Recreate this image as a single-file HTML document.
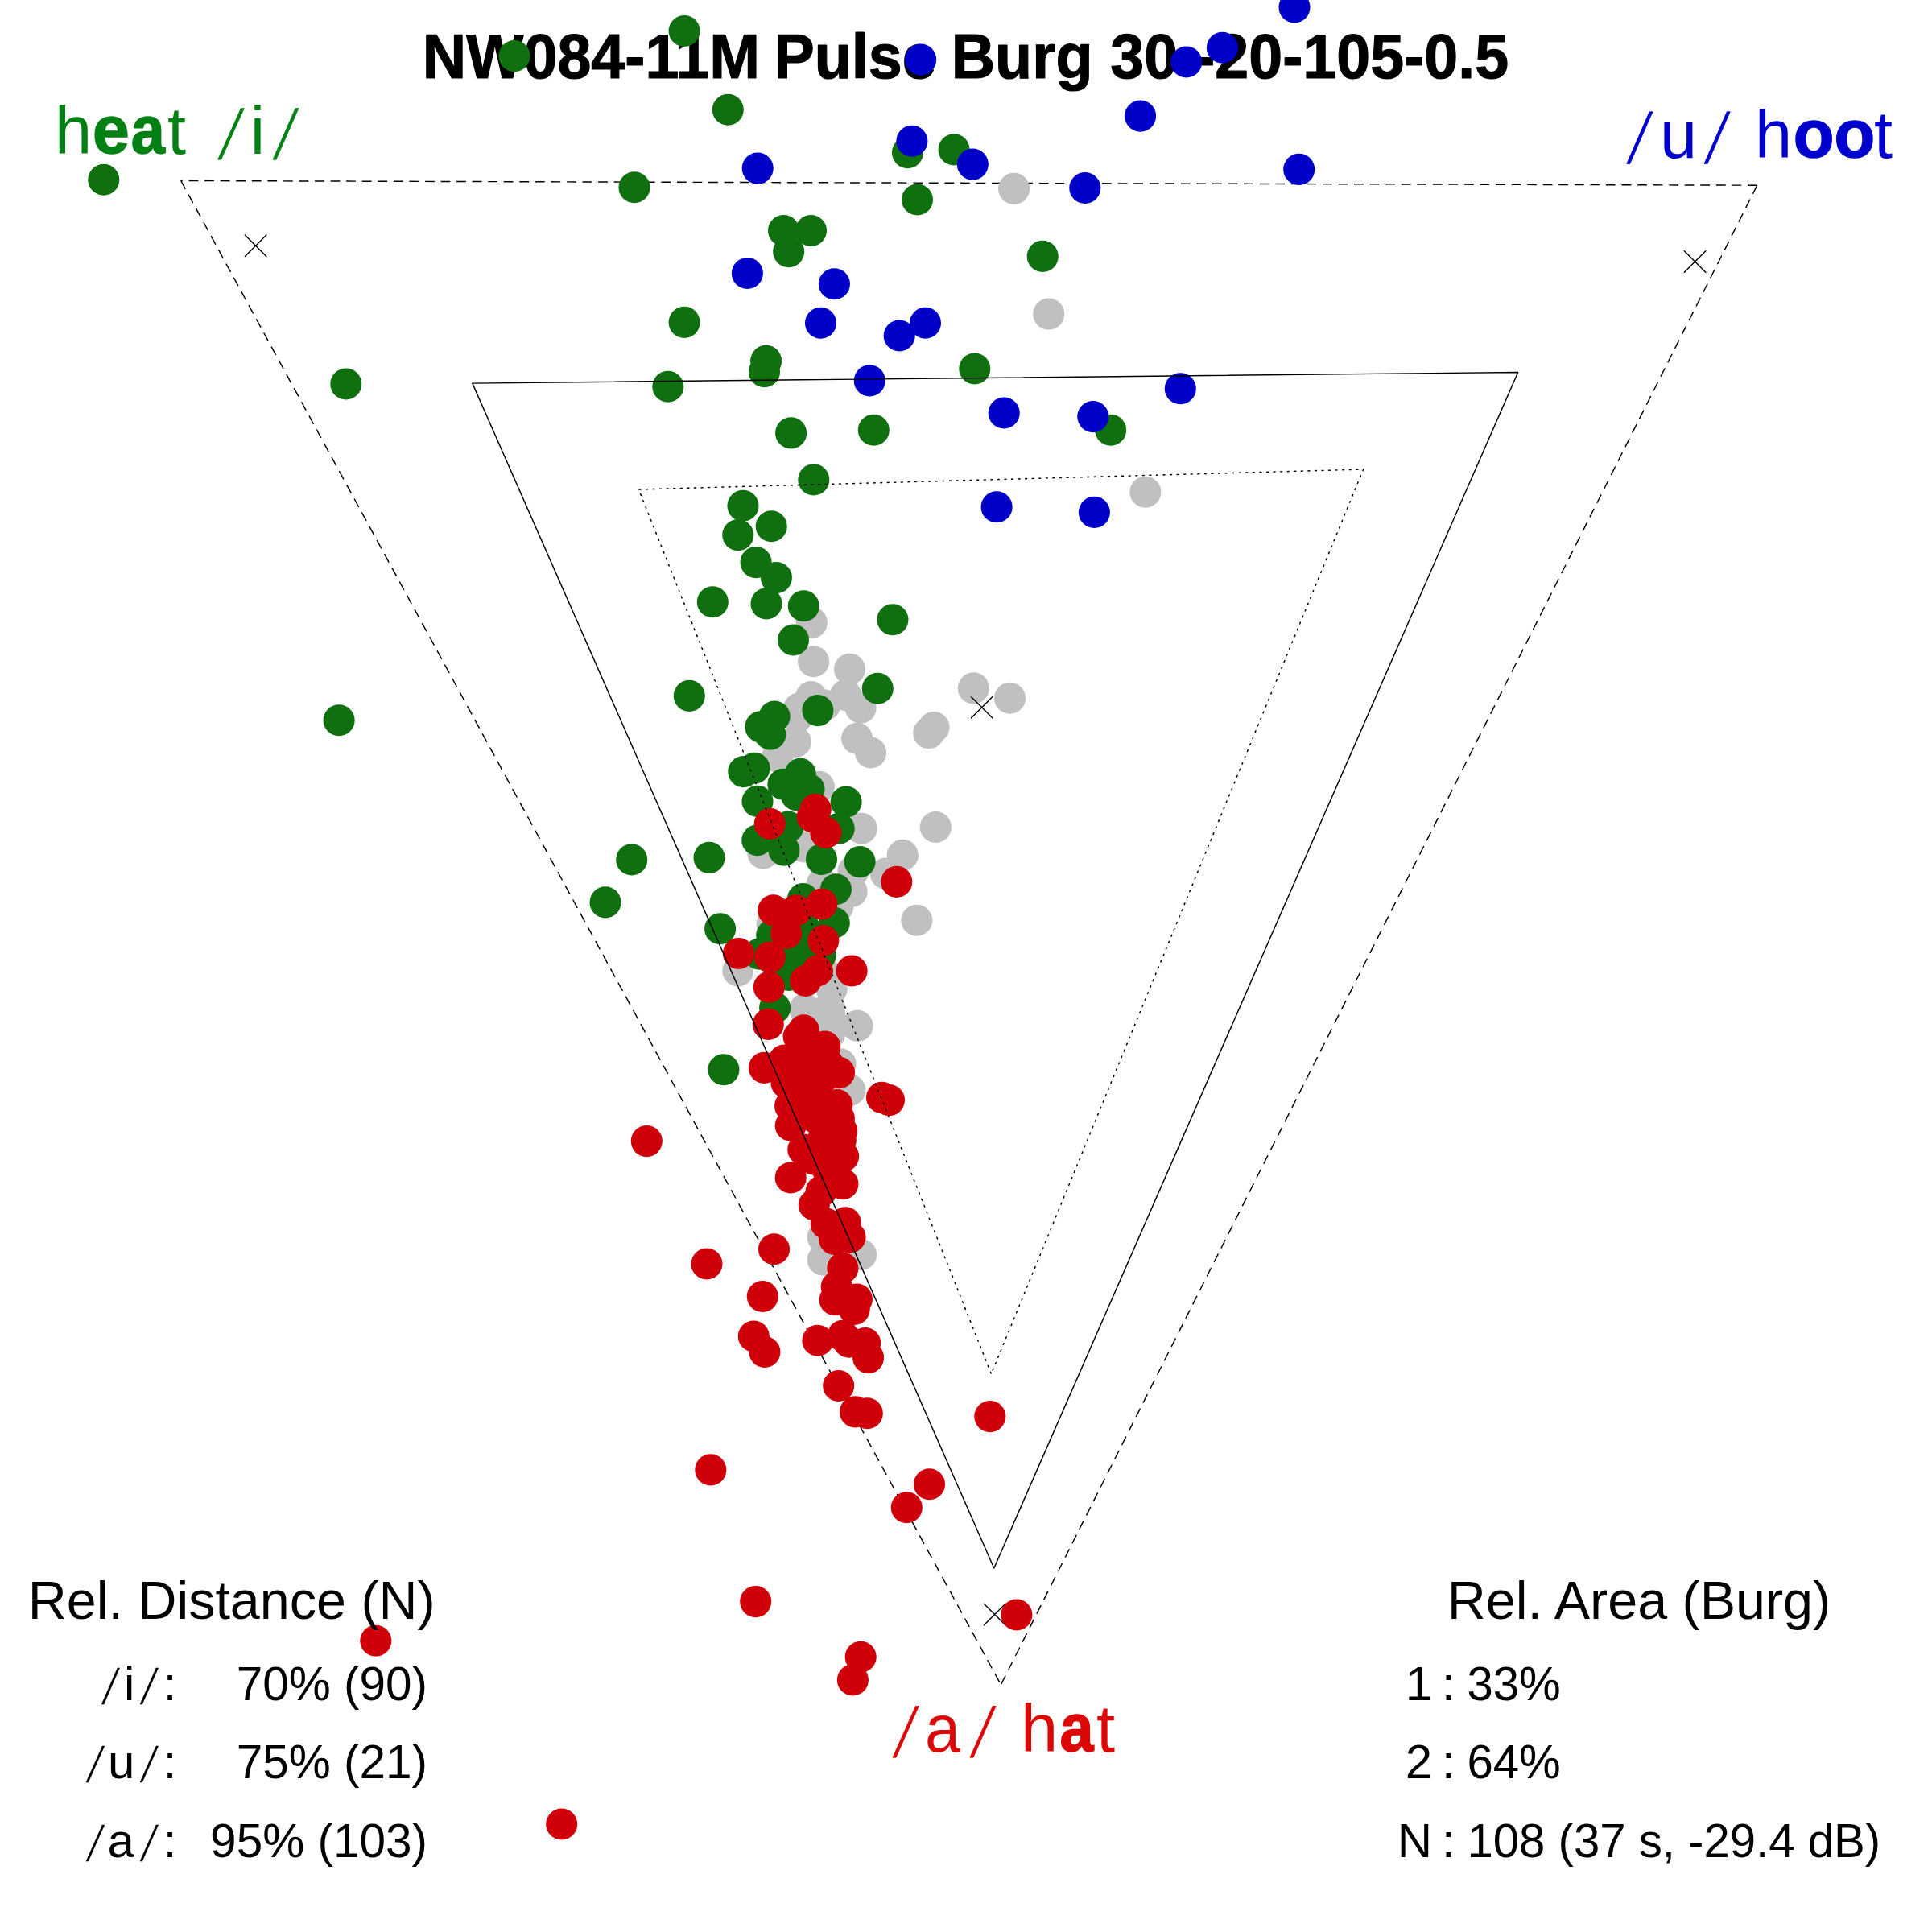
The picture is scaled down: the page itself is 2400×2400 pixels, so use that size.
<!DOCTYPE html>
<html><head><meta charset="utf-8"><title>Vowel triangle</title>
<style>html,body{margin:0;padding:0;background:#fff;}svg{display:block;}</style></head>
<body><svg width="2400" height="2400" viewBox="0 0 2400 2400">
<rect width="2400" height="2400" fill="#fff"/>
<text transform="translate(0,96.9) scale(0.961,1)" font-family="Liberation Sans, Arial, sans-serif" font-size="78.5" font-weight="bold" fill="#000" stroke="#000" stroke-width="1.2" stroke-linejoin="round"><tspan x="546.1" y="0">NW084-11M </tspan><tspan x="1000.4" y="0">Pulse </tspan><tspan x="1229.6" y="0">Burg </tspan><tspan x="1435.3" y="0">30 -20-105-0.5</tspan></text>
<path d="M224.7,224.5 L1243.4,2092.8" fill="none" stroke="#000" stroke-width="1.45" stroke-dasharray="11.8 7.76"/>
<path d="M2182.8,230.2 L1243.4,2092.8" fill="none" stroke="#000" stroke-width="1.45" stroke-dasharray="11.8 7.76"/>
<path d="M2182.8,230.2 L224.7,224.5" fill="none" stroke="#000" stroke-width="1.45" stroke-dasharray="11.8 7.76"/>
<circle cx="1259.6" cy="234.4" r="19.55" fill="#c0c0c0"/>
<circle cx="1302.7" cy="390.1" r="19.55" fill="#c0c0c0"/>
<circle cx="1422.8" cy="611.2" r="19.55" fill="#c0c0c0"/>
<circle cx="1008.3" cy="773.5" r="19.55" fill="#c0c0c0"/>
<circle cx="1010.6" cy="821.7" r="19.55" fill="#c0c0c0"/>
<circle cx="1055.5" cy="831.3" r="19.55" fill="#c0c0c0"/>
<circle cx="1209.3" cy="854.9" r="19.55" fill="#c0c0c0"/>
<circle cx="1254.5" cy="867.3" r="19.55" fill="#c0c0c0"/>
<circle cx="1007.7" cy="865.6" r="19.55" fill="#c0c0c0"/>
<circle cx="992.5" cy="880.1" r="19.55" fill="#c0c0c0"/>
<circle cx="1024.6" cy="876.0" r="19.55" fill="#c0c0c0"/>
<circle cx="1050.5" cy="863.6" r="19.55" fill="#c0c0c0"/>
<circle cx="1069.2" cy="879.1" r="19.55" fill="#c0c0c0"/>
<circle cx="947.0" cy="905.0" r="19.55" fill="#c0c0c0"/>
<circle cx="990.5" cy="890.5" r="19.55" fill="#c0c0c0"/>
<circle cx="988.4" cy="921.5" r="19.55" fill="#c0c0c0"/>
<circle cx="1064.6" cy="917.4" r="19.55" fill="#c0c0c0"/>
<circle cx="1081.6" cy="935.0" r="19.55" fill="#c0c0c0"/>
<circle cx="1160.0" cy="903.5" r="19.55" fill="#c0c0c0"/>
<circle cx="1153.8" cy="910.6" r="19.55" fill="#c0c0c0"/>
<circle cx="965.6" cy="940.2" r="19.55" fill="#c0c0c0"/>
<circle cx="1017.4" cy="977.4" r="19.55" fill="#c0c0c0"/>
<circle cx="1070.2" cy="1029.2" r="19.55" fill="#c0c0c0"/>
<circle cx="1162.3" cy="1027.5" r="19.55" fill="#c0c0c0"/>
<circle cx="948.0" cy="1060.2" r="19.55" fill="#c0c0c0"/>
<circle cx="998.8" cy="1052.0" r="19.55" fill="#c0c0c0"/>
<circle cx="1121.3" cy="1062.3" r="19.55" fill="#c0c0c0"/>
<circle cx="1100.2" cy="1085.1" r="19.55" fill="#c0c0c0"/>
<circle cx="1060.0" cy="1082.0" r="19.55" fill="#c0c0c0"/>
<circle cx="1021.5" cy="1097.5" r="19.55" fill="#c0c0c0"/>
<circle cx="1138.8" cy="1143.2" r="19.55" fill="#c0c0c0"/>
<circle cx="1058.1" cy="1107.5" r="19.55" fill="#c0c0c0"/>
<circle cx="1041.0" cy="1126.0" r="19.55" fill="#c0c0c0"/>
<circle cx="959.1" cy="1148.0" r="19.55" fill="#c0c0c0"/>
<circle cx="916.8" cy="1206.0" r="19.55" fill="#c0c0c0"/>
<circle cx="1033.2" cy="1214.6" r="19.55" fill="#c0c0c0"/>
<circle cx="999.8" cy="1253.4" r="19.55" fill="#c0c0c0"/>
<circle cx="1030.1" cy="1251.9" r="19.55" fill="#c0c0c0"/>
<circle cx="1065.1" cy="1274.4" r="19.55" fill="#c0c0c0"/>
<circle cx="1044.1" cy="1321.7" r="19.55" fill="#c0c0c0"/>
<circle cx="1031.5" cy="1263.5" r="19.55" fill="#c0c0c0"/>
<circle cx="1030.4" cy="1284.2" r="19.55" fill="#c0c0c0"/>
<circle cx="1056.0" cy="1354.3" r="19.55" fill="#c0c0c0"/>
<circle cx="1022.3" cy="1536.8" r="19.55" fill="#c0c0c0"/>
<circle cx="1022.3" cy="1565.0" r="19.55" fill="#c0c0c0"/>
<circle cx="1069.6" cy="1558.5" r="19.55" fill="#c0c0c0"/>
<circle cx="1031.7" cy="1278.3" r="19.55" fill="#c0c0c0"/>
<circle cx="1033.2" cy="1228.6" r="19.55" fill="#c0c0c0"/>
<path d="M304.3,291.9 L330.9,318.5 M304.3,318.5 L330.9,291.9" stroke="#000" stroke-width="1.4" stroke-linecap="round" fill="none"/>
<path d="M2092.3,311.7 L2118.9,338.3 M2092.3,338.3 L2118.9,311.7" stroke="#000" stroke-width="1.4" stroke-linecap="round" fill="none"/>
<path d="M1206.4,865.4 L1233.0,892.0 M1206.4,892.0 L1233.0,865.4" stroke="#000" stroke-width="1.4" stroke-linecap="round" fill="none"/>
<path d="M1222.3,1992.2 L1248.9,2018.8 M1222.3,2018.8 L1248.9,1992.2" stroke="#000" stroke-width="1.4" stroke-linecap="round" fill="none"/>
<circle cx="128.8" cy="223.2" r="19.55" fill="#107010"/>
<circle cx="429.8" cy="477.0" r="19.55" fill="#107010"/>
<circle cx="639.0" cy="69.6" r="19.55" fill="#107010"/>
<circle cx="850.1" cy="38.5" r="19.55" fill="#107010"/>
<circle cx="904.3" cy="136.2" r="19.55" fill="#107010"/>
<circle cx="788.0" cy="232.7" r="19.55" fill="#107010"/>
<circle cx="1127.5" cy="189.6" r="19.55" fill="#107010"/>
<circle cx="1185.1" cy="185.9" r="19.55" fill="#107010"/>
<circle cx="1139.5" cy="248.0" r="19.55" fill="#107010"/>
<circle cx="973.5" cy="286.5" r="19.55" fill="#107010"/>
<circle cx="1007.5" cy="286.5" r="19.55" fill="#107010"/>
<circle cx="979.7" cy="312.6" r="19.55" fill="#107010"/>
<circle cx="1295.2" cy="318.4" r="19.55" fill="#107010"/>
<circle cx="850.1" cy="400.4" r="19.55" fill="#107010"/>
<circle cx="951.6" cy="448.4" r="19.55" fill="#107010"/>
<circle cx="949.5" cy="461.7" r="19.55" fill="#107010"/>
<circle cx="829.8" cy="480.3" r="19.55" fill="#107010"/>
<circle cx="1210.8" cy="458.0" r="19.55" fill="#107010"/>
<circle cx="1379.7" cy="534.2" r="19.55" fill="#107010"/>
<circle cx="982.6" cy="537.9" r="19.55" fill="#107010"/>
<circle cx="1085.3" cy="534.2" r="19.55" fill="#107010"/>
<circle cx="1010.8" cy="595.9" r="19.55" fill="#107010"/>
<circle cx="923.0" cy="628.2" r="19.55" fill="#107010"/>
<circle cx="958.2" cy="653.8" r="19.55" fill="#107010"/>
<circle cx="916.8" cy="664.6" r="19.55" fill="#107010"/>
<circle cx="939.1" cy="698.6" r="19.55" fill="#107010"/>
<circle cx="964.4" cy="717.6" r="19.55" fill="#107010"/>
<circle cx="885.3" cy="747.8" r="19.55" fill="#107010"/>
<circle cx="952.0" cy="749.9" r="19.55" fill="#107010"/>
<circle cx="998.3" cy="752.8" r="19.55" fill="#107010"/>
<circle cx="1108.9" cy="769.8" r="19.55" fill="#107010"/>
<circle cx="985.5" cy="795.0" r="19.55" fill="#107010"/>
<circle cx="421.1" cy="894.8" r="19.55" fill="#107010"/>
<circle cx="784.7" cy="1067.9" r="19.55" fill="#107010"/>
<circle cx="752.0" cy="1120.9" r="19.55" fill="#107010"/>
<circle cx="1090.3" cy="855.3" r="19.55" fill="#107010"/>
<circle cx="856.3" cy="864.4" r="19.55" fill="#107010"/>
<circle cx="1015.9" cy="882.6" r="19.55" fill="#107010"/>
<circle cx="962.1" cy="890.0" r="19.55" fill="#107010"/>
<circle cx="944.9" cy="902.9" r="19.55" fill="#107010"/>
<circle cx="956.9" cy="912.2" r="19.55" fill="#107010"/>
<circle cx="937.1" cy="954.2" r="19.55" fill="#107010"/>
<circle cx="923.8" cy="958.6" r="19.55" fill="#107010"/>
<circle cx="994.2" cy="961.3" r="19.55" fill="#107010"/>
<circle cx="972.9" cy="974.3" r="19.55" fill="#107010"/>
<circle cx="1005.0" cy="980.5" r="19.55" fill="#107010"/>
<circle cx="989.4" cy="987.8" r="19.55" fill="#107010"/>
<circle cx="941.0" cy="995.4" r="19.55" fill="#107010"/>
<circle cx="1051.1" cy="996.1" r="19.55" fill="#107010"/>
<circle cx="979.1" cy="1027.1" r="19.55" fill="#107010"/>
<circle cx="1042.2" cy="1029.2" r="19.55" fill="#107010"/>
<circle cx="940.8" cy="1043.7" r="19.55" fill="#107010"/>
<circle cx="973.9" cy="1056.1" r="19.55" fill="#107010"/>
<circle cx="1020.5" cy="1067.5" r="19.55" fill="#107010"/>
<circle cx="1068.1" cy="1070.6" r="19.55" fill="#107010"/>
<circle cx="881.0" cy="1065.4" r="19.55" fill="#107010"/>
<circle cx="1038.4" cy="1104.7" r="19.55" fill="#107010"/>
<circle cx="997.5" cy="1116.5" r="19.55" fill="#107010"/>
<circle cx="1036.3" cy="1146.3" r="19.55" fill="#107010"/>
<circle cx="958.7" cy="1161.8" r="19.55" fill="#107010"/>
<circle cx="894.6" cy="1153.7" r="19.55" fill="#107010"/>
<circle cx="943.2" cy="1185.1" r="19.55" fill="#107010"/>
<circle cx="989.8" cy="1185.1" r="19.55" fill="#107010"/>
<circle cx="1019.3" cy="1186.6" r="19.55" fill="#107010"/>
<circle cx="979.7" cy="1211.5" r="19.55" fill="#107010"/>
<circle cx="962.6" cy="1251.9" r="19.55" fill="#107010"/>
<circle cx="898.9" cy="1328.7" r="19.55" fill="#107010"/>
<circle cx="999.0" cy="1152.5" r="19.55" fill="#107010"/>
<circle cx="1143.7" cy="74.1" r="19.55" fill="#0000c8"/>
<circle cx="941.2" cy="209.1" r="19.55" fill="#0000c8"/>
<circle cx="1132.9" cy="175.2" r="19.55" fill="#0000c8"/>
<circle cx="1208.3" cy="204.1" r="19.55" fill="#0000c8"/>
<circle cx="1347.8" cy="233.5" r="19.55" fill="#0000c8"/>
<circle cx="1416.6" cy="144.1" r="19.55" fill="#0000c8"/>
<circle cx="1473.7" cy="77.0" r="19.55" fill="#0000c8"/>
<circle cx="1518.4" cy="59.2" r="19.55" fill="#0000c8"/>
<circle cx="1608.0" cy="9.0" r="19.55" fill="#0000c8"/>
<circle cx="1613.7" cy="210.4" r="19.55" fill="#0000c8"/>
<circle cx="928.4" cy="339.5" r="19.55" fill="#0000c8"/>
<circle cx="1036.4" cy="352.8" r="19.55" fill="#0000c8"/>
<circle cx="1019.5" cy="401.2" r="19.55" fill="#0000c8"/>
<circle cx="1149.5" cy="401.2" r="19.55" fill="#0000c8"/>
<circle cx="1117.2" cy="417.0" r="19.55" fill="#0000c8"/>
<circle cx="1080.3" cy="472.9" r="19.55" fill="#0000c8"/>
<circle cx="1466.3" cy="482.8" r="19.55" fill="#0000c8"/>
<circle cx="1247.2" cy="513.0" r="19.55" fill="#0000c8"/>
<circle cx="1357.8" cy="517.6" r="19.55" fill="#0000c8"/>
<circle cx="1238.1" cy="629.8" r="19.55" fill="#0000c8"/>
<circle cx="1359.4" cy="636.4" r="19.55" fill="#0000c8"/>
<circle cx="803.3" cy="1417.6" r="19.55" fill="#d0000a"/>
<circle cx="1013.3" cy="1005.4" r="19.55" fill="#d0000a"/>
<circle cx="1009.1" cy="1014.7" r="19.55" fill="#d0000a"/>
<circle cx="956.3" cy="1023.4" r="19.55" fill="#d0000a"/>
<circle cx="1025.9" cy="1034.4" r="19.55" fill="#d0000a"/>
<circle cx="1113.8" cy="1095.4" r="19.55" fill="#d0000a"/>
<circle cx="960.7" cy="1130.7" r="19.55" fill="#d0000a"/>
<circle cx="989.0" cy="1130.7" r="19.55" fill="#d0000a"/>
<circle cx="1020.8" cy="1123.0" r="19.55" fill="#d0000a"/>
<circle cx="976.6" cy="1159.5" r="19.55" fill="#d0000a"/>
<circle cx="1022.8" cy="1168.5" r="19.55" fill="#d0000a"/>
<circle cx="917.4" cy="1184.5" r="19.55" fill="#d0000a"/>
<circle cx="956.4" cy="1189.0" r="19.55" fill="#d0000a"/>
<circle cx="1015.4" cy="1206.0" r="19.55" fill="#d0000a"/>
<circle cx="1000.6" cy="1218.5" r="19.55" fill="#d0000a"/>
<circle cx="1058.1" cy="1206.0" r="19.55" fill="#d0000a"/>
<circle cx="955.3" cy="1226.2" r="19.55" fill="#d0000a"/>
<circle cx="954.3" cy="1272.4" r="19.55" fill="#d0000a"/>
<circle cx="998.3" cy="1279.8" r="19.55" fill="#d0000a"/>
<circle cx="992.1" cy="1287.6" r="19.55" fill="#d0000a"/>
<circle cx="1024.7" cy="1300.0" r="19.55" fill="#d0000a"/>
<circle cx="949.4" cy="1326.4" r="19.55" fill="#d0000a"/>
<circle cx="974.2" cy="1317.1" r="19.55" fill="#d0000a"/>
<circle cx="1042.5" cy="1332.6" r="19.55" fill="#d0000a"/>
<circle cx="977.0" cy="1345.3" r="19.55" fill="#d0000a"/>
<circle cx="981.6" cy="1373.8" r="19.55" fill="#d0000a"/>
<circle cx="982.2" cy="1398.3" r="19.55" fill="#d0000a"/>
<circle cx="997.8" cy="1428.1" r="19.55" fill="#d0000a"/>
<circle cx="982.2" cy="1463.0" r="19.55" fill="#d0000a"/>
<circle cx="1011.3" cy="1496.7" r="19.55" fill="#d0000a"/>
<circle cx="1027.5" cy="1451.4" r="19.55" fill="#d0000a"/>
<circle cx="1030.1" cy="1466.9" r="19.55" fill="#d0000a"/>
<circle cx="1046.9" cy="1470.8" r="19.55" fill="#d0000a"/>
<circle cx="1047.6" cy="1436.5" r="19.55" fill="#d0000a"/>
<circle cx="1044.3" cy="1416.5" r="19.55" fill="#d0000a"/>
<circle cx="1045.6" cy="1404.8" r="19.55" fill="#d0000a"/>
<circle cx="1042.4" cy="1389.3" r="19.55" fill="#d0000a"/>
<circle cx="1039.8" cy="1372.5" r="19.55" fill="#d0000a"/>
<circle cx="1041.8" cy="1332.3" r="19.55" fill="#d0000a"/>
<circle cx="1022.0" cy="1306.0" r="19.55" fill="#d0000a"/>
<circle cx="1095.5" cy="1363.4" r="19.55" fill="#d0000a"/>
<circle cx="1104.5" cy="1366.6" r="19.55" fill="#d0000a"/>
<circle cx="1050.2" cy="1518.7" r="19.55" fill="#d0000a"/>
<circle cx="1056.0" cy="1536.8" r="19.55" fill="#d0000a"/>
<circle cx="1026.2" cy="1520.0" r="19.55" fill="#d0000a"/>
<circle cx="1036.6" cy="1539.4" r="19.55" fill="#d0000a"/>
<circle cx="961.5" cy="1551.7" r="19.55" fill="#d0000a"/>
<circle cx="878.0" cy="1570.0" r="19.55" fill="#d0000a"/>
<circle cx="947.3" cy="1610.5" r="19.55" fill="#d0000a"/>
<circle cx="936.3" cy="1660.0" r="19.55" fill="#d0000a"/>
<circle cx="949.9" cy="1679.5" r="19.55" fill="#d0000a"/>
<circle cx="1015.9" cy="1665.2" r="19.55" fill="#d0000a"/>
<circle cx="1046.9" cy="1659.4" r="19.55" fill="#d0000a"/>
<circle cx="1054.7" cy="1667.2" r="19.55" fill="#d0000a"/>
<circle cx="1074.7" cy="1668.5" r="19.55" fill="#d0000a"/>
<circle cx="1078.6" cy="1686.6" r="19.55" fill="#d0000a"/>
<circle cx="1041.7" cy="1721.5" r="19.55" fill="#d0000a"/>
<circle cx="1062.5" cy="1753.9" r="19.55" fill="#d0000a"/>
<circle cx="1077.3" cy="1755.8" r="19.55" fill="#d0000a"/>
<circle cx="1046.9" cy="1575.3" r="19.55" fill="#d0000a"/>
<circle cx="1039.2" cy="1598.6" r="19.55" fill="#d0000a"/>
<circle cx="1037.2" cy="1614.8" r="19.55" fill="#d0000a"/>
<circle cx="1064.4" cy="1614.1" r="19.55" fill="#d0000a"/>
<circle cx="1061.2" cy="1626.4" r="19.55" fill="#d0000a"/>
<circle cx="1037.9" cy="1537.8" r="19.55" fill="#d0000a"/>
<circle cx="1055.3" cy="1537.1" r="19.55" fill="#d0000a"/>
<circle cx="1229.8" cy="1759.6" r="19.55" fill="#d0000a"/>
<circle cx="882.8" cy="1825.9" r="19.55" fill="#d0000a"/>
<circle cx="1154.5" cy="1843.7" r="19.55" fill="#d0000a"/>
<circle cx="1126.3" cy="1872.7" r="19.55" fill="#d0000a"/>
<circle cx="938.7" cy="1989.6" r="19.55" fill="#d0000a"/>
<circle cx="1262.9" cy="2006.0" r="19.55" fill="#d0000a"/>
<circle cx="1069.2" cy="2058.3" r="19.55" fill="#d0000a"/>
<circle cx="1059.4" cy="2086.9" r="19.55" fill="#d0000a"/>
<circle cx="697.7" cy="2266.0" r="19.55" fill="#d0000a"/>
<circle cx="466.8" cy="2038.2" r="19.55" fill="#d0000a"/>
<circle cx="1000.0" cy="1330.0" r="19.55" fill="#d0000a"/>
<circle cx="1010.0" cy="1360.0" r="19.55" fill="#d0000a"/>
<circle cx="1015.0" cy="1390.0" r="19.55" fill="#d0000a"/>
<circle cx="1020.0" cy="1420.0" r="19.55" fill="#d0000a"/>
<circle cx="1010.0" cy="1440.0" r="19.55" fill="#d0000a"/>
<circle cx="1020.0" cy="1480.0" r="19.55" fill="#d0000a"/>
<circle cx="1005.3" cy="1306.2" r="19.55" fill="#d0000a"/>
<circle cx="1028.6" cy="1321.7" r="19.55" fill="#d0000a"/>
<circle cx="989.8" cy="1337.3" r="19.55" fill="#d0000a"/>
<circle cx="1022.3" cy="1338.8" r="19.55" fill="#d0000a"/>
<circle cx="996.5" cy="1307.8" r="19.55" fill="#d0000a"/>
<path d="M586.8,476.1 L1885.7,462.5 L1234.8,1948.0 Z" fill="none" stroke="#000" stroke-width="1.45" stroke-linejoin="round"/>
<path d="M1231.4,1706.6 L793.4,608 L1693.6,583 Z" fill="none" stroke="#000" stroke-width="1.45" stroke-dasharray="3.1 5.47"/>
<text font-family="Liberation Sans, Arial, sans-serif" font-size="83" fill="#038013"><tspan x="68.1" y="191.0">h</tspan><tspan x="114.9" y="190.4" font-weight="bold" stroke="#038013" stroke-width="1.6" stroke-linejoin="round" textLength="45.7" lengthAdjust="spacingAndGlyphs">e</tspan><tspan x="162.7" y="190.4" font-weight="bold" stroke="#038013" stroke-width="1.6" stroke-linejoin="round" textLength="42.0" lengthAdjust="spacingAndGlyphs">a</tspan><tspan x="208.0" y="191.0">t</tspan></text>
<text transform="translate(270.52,190.54) skewX(-8.00)" x="0" y="0" font-family="DejaVu Sans, sans-serif" font-weight="200" font-size="77.32" fill="#038013" stroke="#038013" stroke-width="0.7" stroke-linejoin="round">/</text>
<text transform="translate(310.7,191.0) scale(1.000,1)" x="0" y="0" font-family="Liberation Sans, Arial, sans-serif" font-size="83" font-weight="normal" fill="#038013" text-anchor="start">i</text>
<text transform="translate(338.74,190.54) skewX(-7.38)" x="0" y="0" font-family="DejaVu Sans, sans-serif" font-weight="200" font-size="77.32" fill="#038013" stroke="#038013" stroke-width="0.7" stroke-linejoin="round">/</text>
<text transform="translate(2020.43,195.94) skewX(-7.34)" x="0" y="0" font-family="DejaVu Sans, sans-serif" font-weight="200" font-size="78.41" fill="#0000cc" stroke="#0000cc" stroke-width="0.7" stroke-linejoin="round">/</text>
<text transform="translate(2061.9,195.8) scale(1.000,1)" x="0" y="0" font-family="Liberation Sans, Arial, sans-serif" font-size="83" font-weight="normal" fill="#0000cc" text-anchor="start">u</text>
<text transform="translate(2116.72,195.94) skewX(-7.25)" x="0" y="0" font-family="DejaVu Sans, sans-serif" font-weight="200" font-size="78.41" fill="#0000cc" stroke="#0000cc" stroke-width="0.7" stroke-linejoin="round">/</text>
<text font-family="Liberation Sans, Arial, sans-serif" font-size="83" fill="#0000cc"><tspan x="2180.1" y="195.8">h</tspan><tspan x="2227.8" y="195.2" font-weight="bold" stroke="#0000cc" stroke-width="1.6" stroke-linejoin="round">oo</tspan><tspan x="2327.9" y="195.8">t</tspan></text>
<text transform="translate(1108.69,2175.61) skewX(-7.78)" x="0" y="0" font-family="DejaVu Sans, sans-serif" font-weight="200" font-size="77.68" fill="#dc0808" stroke="#dc0808" stroke-width="0.7" stroke-linejoin="round">/</text>
<text transform="translate(1149.0,2175.8) scale(0.955,1)" x="0" y="0" font-family="Liberation Sans, Arial, sans-serif" font-size="83" font-weight="normal" fill="#dc0808" text-anchor="start">a</text>
<text transform="translate(1204.86,2175.61) skewX(-7.51)" x="0" y="0" font-family="DejaVu Sans, sans-serif" font-weight="200" font-size="77.68" fill="#dc0808" stroke="#dc0808" stroke-width="0.7" stroke-linejoin="round">/</text>
<text font-family="Liberation Sans, Arial, sans-serif" font-size="83" fill="#dc0808"><tspan x="1268.1" y="2175.8">h</tspan><tspan x="1316.5" y="2175.2" font-weight="bold" stroke="#dc0808" stroke-width="1.6" stroke-linejoin="round" textLength="42.0" lengthAdjust="spacingAndGlyphs">a</tspan><tspan x="1361.9" y="2175.8">t</tspan></text>
<text transform="translate(34.8,2010.9) scale(1.007,1)" x="0" y="0" font-family="Liberation Sans, Arial, sans-serif" font-size="66" font-weight="normal" fill="#000" text-anchor="start">Rel. Distance (N)</text>
<text transform="translate(125.90,2111.96) skewX(-7.22)" x="0" y="0" font-family="DejaVu Sans, sans-serif" font-weight="200" font-size="54.88" fill="#000" stroke="#000" stroke-width="0.35" stroke-linejoin="round">/</text>
<text transform="translate(154.1,2112.0) scale(1.000,1)" x="0" y="0" font-family="Liberation Sans, Arial, sans-serif" font-size="60" font-weight="normal" fill="#000" text-anchor="start">i</text>
<text transform="translate(173.74,2111.96) skewX(-7.59)" x="0" y="0" font-family="DejaVu Sans, sans-serif" font-weight="200" font-size="54.88" fill="#000" stroke="#000" stroke-width="0.35" stroke-linejoin="round">/</text>
<text transform="translate(202.7,2112.0) scale(1.000,1)" x="0" y="0" font-family="Liberation Sans, Arial, sans-serif" font-size="60" font-weight="normal" fill="#000" text-anchor="start">:</text>
<text transform="translate(531.0,2112.0) scale(0.975,1)" x="0" y="0" font-family="Liberation Sans, Arial, sans-serif" font-size="60" font-weight="normal" fill="#000" text-anchor="end">70% (90)</text>
<text transform="translate(106.66,2209.06) skewX(-7.84)" x="0" y="0" font-family="DejaVu Sans, sans-serif" font-weight="200" font-size="54.88" fill="#000" stroke="#000" stroke-width="0.35" stroke-linejoin="round">/</text>
<text transform="translate(133.9,2209.1) scale(1.000,1)" x="0" y="0" font-family="Liberation Sans, Arial, sans-serif" font-size="60" font-weight="normal" fill="#000" text-anchor="start">u</text>
<text transform="translate(173.74,2209.06) skewX(-7.59)" x="0" y="0" font-family="DejaVu Sans, sans-serif" font-weight="200" font-size="54.88" fill="#000" stroke="#000" stroke-width="0.35" stroke-linejoin="round">/</text>
<text transform="translate(202.7,2209.1) scale(1.000,1)" x="0" y="0" font-family="Liberation Sans, Arial, sans-serif" font-size="60" font-weight="normal" fill="#000" text-anchor="start">:</text>
<text transform="translate(531.0,2209.1) scale(0.975,1)" x="0" y="0" font-family="Liberation Sans, Arial, sans-serif" font-size="60" font-weight="normal" fill="#000" text-anchor="end">75% (21)</text>
<text transform="translate(106.66,2306.96) skewX(-7.84)" x="0" y="0" font-family="DejaVu Sans, sans-serif" font-weight="200" font-size="54.88" fill="#000" stroke="#000" stroke-width="0.35" stroke-linejoin="round">/</text>
<text transform="translate(133.5,2307.0) scale(1.000,1)" x="0" y="0" font-family="Liberation Sans, Arial, sans-serif" font-size="60" font-weight="normal" fill="#000" text-anchor="start">a</text>
<text transform="translate(173.74,2306.96) skewX(-7.59)" x="0" y="0" font-family="DejaVu Sans, sans-serif" font-weight="200" font-size="54.88" fill="#000" stroke="#000" stroke-width="0.35" stroke-linejoin="round">/</text>
<text transform="translate(202.7,2307.0) scale(1.000,1)" x="0" y="0" font-family="Liberation Sans, Arial, sans-serif" font-size="60" font-weight="normal" fill="#000" text-anchor="start">:</text>
<text transform="translate(531.0,2307.0) scale(0.975,1)" x="0" y="0" font-family="Liberation Sans, Arial, sans-serif" font-size="60" font-weight="normal" fill="#000" text-anchor="end">95% (103)</text>
<text transform="translate(1797.8,2011.2) scale(1.007,1)" x="0" y="0" font-family="Liberation Sans, Arial, sans-serif" font-size="66" font-weight="normal" fill="#000" text-anchor="start">Rel. Area (Burg)</text>
<text transform="translate(1779.0,2111.7) scale(1.000,1)" x="0" y="0" font-family="Liberation Sans, Arial, sans-serif" font-size="60" font-weight="normal" fill="#000" text-anchor="end">1</text>
<text transform="translate(1791.0,2111.7) scale(1.000,1)" x="0" y="0" font-family="Liberation Sans, Arial, sans-serif" font-size="60" font-weight="normal" fill="#000" text-anchor="start">:</text>
<text transform="translate(1822.4,2111.7) scale(0.969,1)" x="0" y="0" font-family="Liberation Sans, Arial, sans-serif" font-size="60" font-weight="normal" fill="#000" text-anchor="start">33%</text>
<text transform="translate(1779.0,2208.8) scale(1.000,1)" x="0" y="0" font-family="Liberation Sans, Arial, sans-serif" font-size="60" font-weight="normal" fill="#000" text-anchor="end">2</text>
<text transform="translate(1791.0,2208.8) scale(1.000,1)" x="0" y="0" font-family="Liberation Sans, Arial, sans-serif" font-size="60" font-weight="normal" fill="#000" text-anchor="start">:</text>
<text transform="translate(1822.4,2208.8) scale(0.969,1)" x="0" y="0" font-family="Liberation Sans, Arial, sans-serif" font-size="60" font-weight="normal" fill="#000" text-anchor="start">64%</text>
<text transform="translate(1779.0,2306.6) scale(1.000,1)" x="0" y="0" font-family="Liberation Sans, Arial, sans-serif" font-size="60" font-weight="normal" fill="#000" text-anchor="end">N</text>
<text transform="translate(1791.0,2306.6) scale(1.000,1)" x="0" y="0" font-family="Liberation Sans, Arial, sans-serif" font-size="60" font-weight="normal" fill="#000" text-anchor="start">:</text>
<text transform="translate(1822.4,2306.6) scale(0.969,1)" x="0" y="0" font-family="Liberation Sans, Arial, sans-serif" font-size="60" font-weight="normal" fill="#000" text-anchor="start">108 (37 s, -29.4 dB)</text>
</svg></body></html>
